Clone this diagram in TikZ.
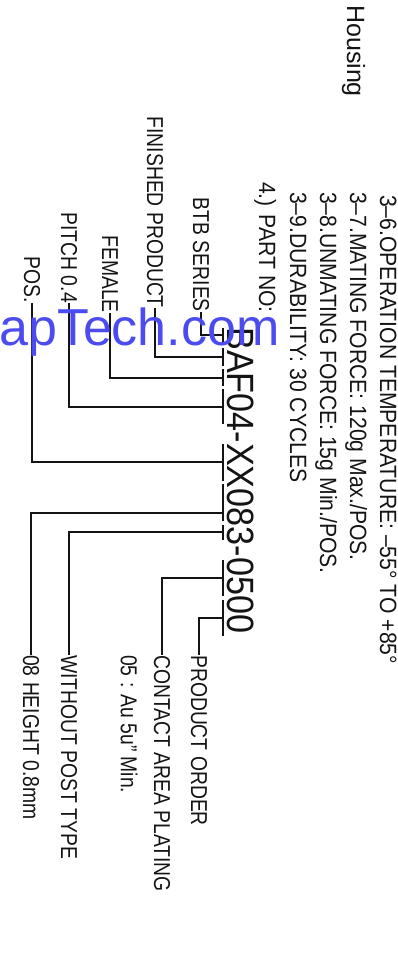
\documentclass[tikz,border=0pt]{standalone}
\usepackage{fontspec}
\usepackage{tikz}
\usetikzlibrary{positioning,calc}
\newfontfamily\cadfont[FakeStretch=0.84]{Liberation Sans}
\newfontfamily\specfont[FakeStretch=0.9]{Liberation Sans}
\newfontfamily\markfont{Liberation Sans}
\definecolor{Ink}{HTML}{141414}
\definecolor{Mark}{HTML}{4B4BF0}

\begin{document}
\begin{tikzpicture}[x=1pt,y=-1pt,
  spec/.style={rotate=-90,anchor=base west,inner sep=0pt,text=Ink,font=\specfont\fontsize{23.5}{28}\selectfont},
  lbl/.style={rotate=-90,inner sep=0pt,text=Ink,font=\cadfont\fontsize{23}{27}\selectfont},
  lead/.style={Ink,line width=1.2pt},
  uline/.style={Ink,line width=1.3pt}]
  \fill[white] (0,0) rectangle (397,965);
  \useasboundingbox (0,0) rectangle (397,965);

  % specification lines
  \node[spec,font=\markfont\fontsize{25}{30}\selectfont] (hous) at (347,5) {Housing};
  \node[spec] (s36) at (380,195) {3–6.OPERATION TEMPERATURE: –55° TO +85°};
  \node[spec] (s37) at (350,192) {3–7.MATING FORCE: 120g Max./POS.};
  \node[spec] (s38) at (320,192) {3–8.UNMATING FORCE: 15g Min./POS.};
  \node[spec] (s39) at (290,192) {3–9.DURABILITY: 30 CYCLES};
  \node[spec] (s4) at (259,182) {4.)\hspace{8pt}PART NO:};

  % part number
  \node[spec,font=\specfont\fontsize{38}{44}\selectfont] (pn) at (227,327) {BAF04-XX083-0500};
  \foreach \a/\b in {328/345,348/366,369/386,389/424,444/481,484/521,525/540,560/596,600/636}
    \draw[uline] (223,\a) -- (223,\b);
  \coordinate (jB) at (223,335);
  \coordinate (jA) at (223,357);
  \coordinate (jF) at (223,378);
  \coordinate (jP) at (223,407);
  \coordinate (jX) at (223,462);
  \coordinate (jH) at (223,513);
  \coordinate (jT) at (223,532);
  \coordinate (jC) at (223,578);
  \coordinate (jO) at (223,618);

  % labels
  \node[lbl,anchor=east] (btb) at (201,312) {BTB SERIES};
  \node[lbl,anchor=east] (fin) at (155,308) {FINISHED PRODUCT};
  \node[lbl,anchor=east] (fem) at (110,313) {FEMALE};
  \node[lbl,anchor=east] (pit) at (69,303) {PITCH 0.4};
  \node[lbl,anchor=east] (pos) at (32,303) {POS.};
  \node[lbl,anchor=west] (ord) at (199,655) {PRODUCT ORDER};
  \node[lbl,anchor=west] (plt) at (162,655) {CONTACT AREA PLATING};
  \node[lbl,anchor=west] (plu) at (129,655) {05 : Au 5u” Min.};
  \node[lbl,anchor=west] (wpt) at (69,655) {WITHOUT POST TYPE};
  \node[lbl,anchor=west] (hgt) at (31,655) {08 HEIGHT 0.8mm};

  % leaders
  \draw[lead] (btb.east) |- (jB);
  \draw[lead] (fin.east) |- (jA);
  \draw[lead] (fem.east) |- (jF);
  \draw[lead] (pit.east) |- (jP);
  \draw[lead] (pos.east) |- (jX);
  \draw[lead] (jH) -| (hgt.west);
  \draw[lead] (jT) -| (wpt.west);
  \draw[lead] (jC) -| (plt.west);
  \draw[lead] (jO) -| (ord.west);

  \node[anchor=base west,inner sep=0pt,text=Mark,font=\markfont\fontsize{52}{60}\selectfont] (wm) at (-1,345) {apTech.com};
\end{tikzpicture}
\end{document}
